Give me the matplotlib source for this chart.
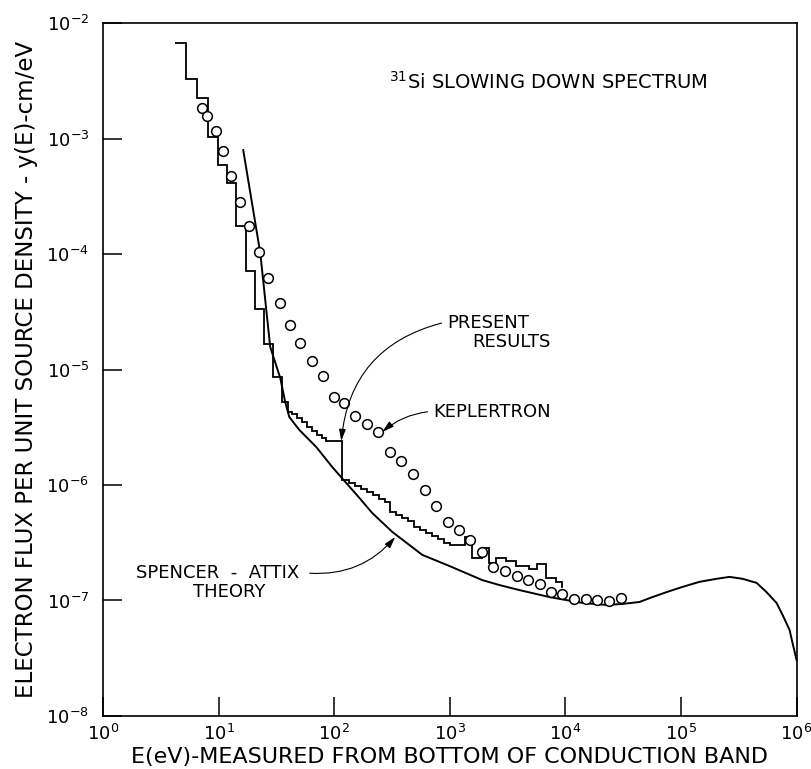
import numpy as np
import matplotlib
matplotlib.use("Agg")
import matplotlib.pyplot as plt

# present results (stepped histogram): bin edges in eV, flux per bin
hist_edges = [4.20, 5.23, 6.51, 8.11, 9.90, 11.85, 14.18, 17.30, 20.70, 24.77,
              29.64, 35.46, 39.97, 43.28, 47.82, 52.85, 58.39, 64.52, 71.29, 78.77,
              85.27, 117.3, 134.9, 152.0, 171.3, 193.1, 217.6, 245.3, 276.4, 305.4,
              344.2, 387.9, 437.2, 492.7, 555.3, 625.8, 705.3, 794.9, 895.8, 1010,
              1362, 1566, 1911, 2198, 2527, 3085, 3766, 4880, 5722, 6847,
              8357, 9419]
hist_flux = [6.71e-3, 3.27e-3, 2.24e-3, 1.03e-3, 5.90e-4, 4.12e-4, 1.75e-4, 7.12e-5,
             3.34e-5, 1.66e-5, 8.61e-6, 5.23e-6, 4.29e-6, 4.12e-6, 3.80e-6, 3.51e-6,
             3.18e-6, 2.93e-6, 2.71e-6, 2.55e-6, 2.40e-6, 1.10e-6, 1.04e-6, 9.80e-7,
             9.23e-7, 8.70e-7, 8.19e-7, 7.56e-7, 7.12e-7, 5.84e-7, 5.50e-7, 5.18e-7,
             4.88e-7, 4.33e-7, 4.08e-7, 3.84e-7, 3.62e-7, 3.41e-7, 3.15e-7, 3.02e-7,
             3.55e-7, 2.33e-7, 2.85e-7, 2.11e-7, 2.33e-7, 2.20e-7, 1.99e-7, 1.87e-7,
             2.07e-7, 1.57e-7, 1.45e-7]
hist_end = 1.31e-7

# Keplertron measurements (open circles)
kep_E = [7.2, 7.95, 9.5, 10.9, 12.8, 15.4, 18.4, 22.4, 26.8, 34.1,
         41.6, 50.8, 64.5, 80.3, 100, 122, 152, 193, 240, 305,
         380, 483, 614, 764, 971, 1208, 1504, 1910, 2380, 3025,
         3840, 4785, 6080, 7565, 9420, 11970, 15200, 18900, 24000, 30500]
kep_y = [1.84e-3, 1.57e-3, 1.16e-3, 7.8e-4, 4.7e-4, 2.8e-4, 1.75e-4, 1.04e-4, 6.2e-5, 3.76e-5,
         2.43e-5, 1.70e-5, 1.19e-5, 8.8e-6, 5.8e-6, 5.1e-6, 3.95e-6, 3.37e-6, 2.87e-6, 1.93e-6,
         1.61e-6, 1.25e-6, 9.05e-7, 6.58e-7, 4.78e-7, 4.08e-7, 3.34e-7, 2.63e-7, 1.95e-7, 1.80e-7,
         1.63e-7, 1.50e-7, 1.39e-7, 1.18e-7, 1.14e-7, 1.03e-7, 1.03e-7, 1.01e-7, 9.9e-8, 1.05e-7]

# Spencer-Attix theory
sa_E = [16.3, 22.9, 27.9, 34.1, 37.6, 40.8, 49.8, 69.9, 96.1, 127,
        165, 213, 318, 578, 990, 1911, 2683, 4000, 7270, 14030,
        22650, 31150, 43700, 56650, 74900, 1.03e5, 1.446e5, 2.03e5, 2.63e5, 3.41e5,
        4.51e5, 5.50e5, 6.71e5, 7.57e5, 8.70e5, 9.23e5, 1.0e6]
sa_y = [7.95e-4, 1.02e-4, 1.57e-5, 8.44e-6, 5.23e-6, 3.88e-6, 3.0e-6, 2.13e-6, 1.43e-6, 1.04e-6,
        7.72e-7, 5.72e-7, 3.92e-7, 2.48e-7, 1.99e-7, 1.50e-7, 1.36e-7, 1.23e-7, 1.07e-7, 9.52e-8,
        9.14e-8, 9.33e-8, 9.70e-8, 1.07e-7, 1.18e-7, 1.31e-7, 1.45e-7, 1.54e-7, 1.60e-7, 1.54e-7,
        1.42e-7, 1.18e-7, 9.52e-8, 7.49e-8, 5.55e-8, 4.28e-8, 3.05e-8]

fig = plt.figure(figsize=(8.12, 7.69), dpi=100)
ax = fig.add_axes([0.127, 0.069, 0.854, 0.901])
ax.set_xscale('log')
ax.set_yscale('log')
ax.set_xlim(1, 1e6)
ax.set_ylim(1e-8, 1e-2)

ax.stairs(hist_flux, hist_edges, baseline=None, color='black', lw=1.3)
ax.plot([hist_edges[-1], hist_edges[-1]], [hist_flux[-1], hist_end], color='black', lw=1.3)
ax.plot(sa_E, sa_y, color='black', lw=1.4)
ax.plot(kep_E, kep_y, 'o', mfc='white', mec='black', ms=7, mew=1.1)

ax.tick_params(which='major', direction='in', length=14, width=1.1,
               labelsize=13, top=False, right=False, pad=6)
ax.tick_params(axis='y', pad=10)
ax.tick_params(which='minor', length=0)
for s in ax.spines.values():
    s.set_linewidth(1.2)

ax.set_xlabel('E(eV)-MEASURED FROM BOTTOM OF CONDUCTION BAND', fontsize=16, labelpad=2)
ax.set_ylabel('ELECTRON FLUX PER UNIT SOURCE DENSITY - y(E)-cm/eV',
              fontsize=16.5, labelpad=6)

ax.text(0.872, 0.915, r'$^{31}$Si SLOWING DOWN SPECTRUM', transform=ax.transAxes,
        ha='right', va='center', fontsize=14)
ax.text(0.496, 0.567, 'PRESENT', transform=ax.transAxes, ha='left', va='center', fontsize=13)
ax.text(0.533, 0.540, 'RESULTS', transform=ax.transAxes, ha='left', va='center', fontsize=13)
ax.text(0.476, 0.439, 'KEPLERTRON', transform=ax.transAxes, ha='left', va='center', fontsize=13)
ax.text(0.048, 0.206, 'SPENCER  -  ATTIX', transform=ax.transAxes, ha='left', va='center', fontsize=13)
ax.text(0.130, 0.179, 'THEORY', transform=ax.transAxes, ha='left', va='center', fontsize=13)

arrow = dict(arrowstyle='-|>,head_length=0.7,head_width=0.2', color='black', lw=0.8,
             shrinkA=0, shrinkB=0)
ax.annotate('', xy=(115, 2.40e-6), xycoords='data', xytext=(0.488, 0.567),
            textcoords='axes fraction',
            arrowprops=dict(arrow, connectionstyle='arc3,rad=0.35'))
ax.annotate('', xy=(260, 2.88e-6), xycoords='data', xytext=(0.468, 0.439),
            textcoords='axes fraction',
            arrowprops=dict(arrow, connectionstyle='arc3,rad=0.15'))
ax.annotate('', xy=(337, 3.55e-7), xycoords='data', xytext=(0.298, 0.206),
            textcoords='axes fraction',
            arrowprops=dict(arrow, connectionstyle='arc3,rad=0.25'))

fig.savefig('out.png', dpi=100)
